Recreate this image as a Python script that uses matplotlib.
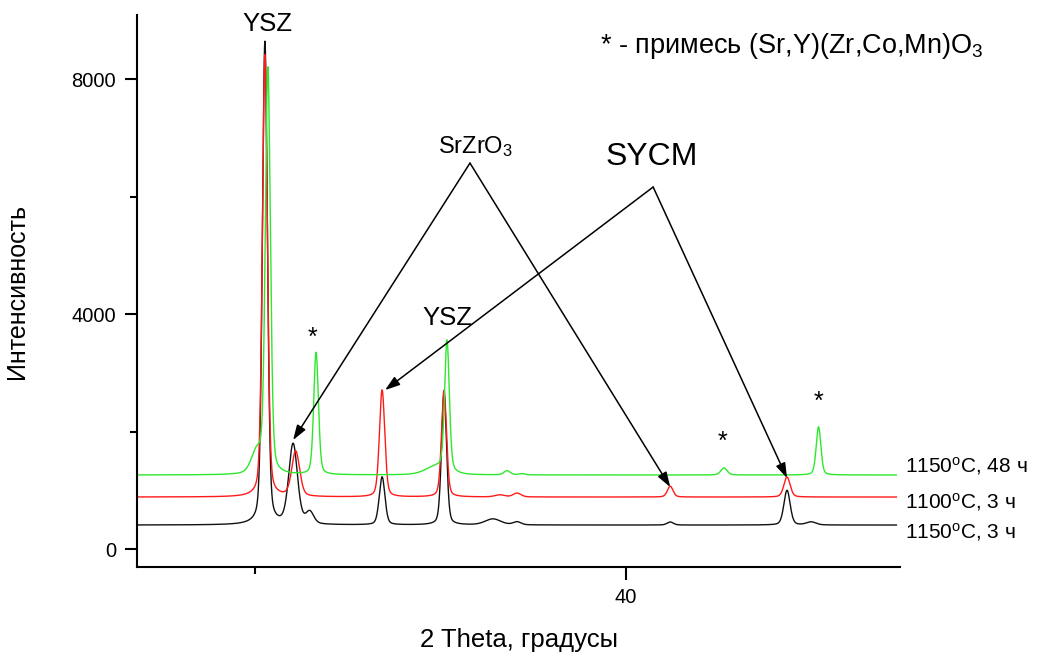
import numpy as np
import matplotlib
matplotlib.use("Agg")
import matplotlib.pyplot as plt
from matplotlib.ticker import MultipleLocator

plt.rcParams['font.family'] = ['Liberation Sans', 'DejaVu Sans']
plt.rcParams['mathtext.fontset'] = 'custom'
plt.rcParams['mathtext.rm'] = 'Liberation Sans'
plt.rcParams['mathtext.it'] = 'Liberation Sans:italic'

# peak lists: position (2theta), top intensity, FWHM
black_base = 408
black_pos  = [30.27, 31.03, 31.48, 33.43, 35.10, 36.42, 37.07, 41.20, 44.35, 45.00]
black_top  = [8630, 1770, 610, 1225, 2650, 510, 460, 460, 1000, 460]
black_fwhm = [0.16, 0.28, 0.25, 0.18, 0.16, 0.50, 0.25, 0.20, 0.20, 0.30]

red_base = 885
red_pos  = [30.27, 31.10, 33.43, 35.10, 36.60, 37.07, 41.20, 44.35]
red_top  = [8410, 1650, 2706, 2700, 920, 950, 1070, 1225]
red_fwhm = [0.16, 0.25, 0.17, 0.16, 0.30, 0.25, 0.18, 0.20]

green_base = 1260
green_pos  = [30.05, 30.35, 31.65, 34.90, 35.18, 36.80, 37.20, 42.65, 45.20]
green_top  = [1620, 8150, 3340, 1400, 3470, 1330, 1280, 1380, 2080]
green_fwhm = [0.35, 0.16, 0.15, 0.70, 0.15, 0.20, 0.20, 0.20, 0.15]

series_labels = ["1150$^\\mathregular{o}$C, 48 ч",
                 "1100$^\\mathregular{o}$C, 3 ч",
                 "1150$^\\mathregular{o}$C, 3 ч"]
label_y = [1311, 698, 187]

twotheta = np.linspace(26.85, 47.3, 5000)


def profile(base, pos, top, fwhm, eta=0.3):
    y = np.full_like(twotheta, float(base))
    for p, t, w in zip(pos, top, fwhm):
        h = t - base
        d = (twotheta - p) / (w / 2)
        gauss = np.exp(-np.log(2) * d ** 2)
        lorentz = 1.0 / (1.0 + d ** 2)
        y += h * (eta * lorentz + (1 - eta) * gauss)
    return y


fig = plt.figure(figsize=(10.37, 6.53), dpi=100)
ax = fig.add_axes([0.1321, 0.1317, 0.868 - 0.1321, 0.977 - 0.1317])

ax.plot(twotheta, profile(black_base, black_pos, black_top, black_fwhm), color='#111111', lw=1.0)
ax.plot(twotheta, profile(red_base, red_pos, red_top, red_fwhm), color='#ff1a1a', lw=1.0)
ax.plot(twotheta, profile(green_base, green_pos, green_top, green_fwhm), color='#2ee82e', lw=1.0)

ax.set_xlim(26.82, 47.40)
ax.set_ylim(-306, 9090)

for s in ['top', 'right']:
    ax.spines[s].set_visible(False)
for s in ['left', 'bottom']:
    ax.spines[s].set_linewidth(1.5)

ax.xaxis.set_major_locator(MultipleLocator(20))
ax.xaxis.set_minor_locator(MultipleLocator(10))
ax.yaxis.set_major_locator(MultipleLocator(4000))
ax.yaxis.set_minor_locator(MultipleLocator(2000))
ax.tick_params(which='major', direction='out', length=9, width=1.5, labelsize=14.5, pad=6)
ax.tick_params(which='minor', direction='out', length=5, width=1.5)

ax.set_xlabel("2 Theta, градусы", fontsize=18.5, labelpad=15)
ax.set_ylabel("Интенсивность", fontsize=18)
ax.yaxis.set_label_coords(-0.142, 0.5)

# phase labels
ax.text(30.35, 8936, "YSZ", fontsize=18.5, ha='center', va='center')
ax.text(35.18, 3932, "YSZ", fontsize=18.5, ha='center', va='center')
ax.text(35.95, 6740, "SrZrO$_\\mathregular{3}$", fontsize=17, ha='center', va='baseline')
ax.text(40.70, 6672, "SYCM", fontsize=23, ha='center', va='center')

# impurity stars
for sx, sy in [(31.56, 3600), (42.62, 1830), (45.21, 2510)]:
    ax.text(sx, sy, "*", fontsize=18, ha='center', va='center')

ax.text(39.31, 8443, "* - примесь (Sr,Y)(Zr,Co,Mn)O$_\\mathregular{3}$",
        fontsize=19.5, ha='left', va='baseline')

arrow = dict(arrowstyle='-|>,head_length=0.9,head_width=0.3', lw=1.1,
             color='black', shrinkA=0, shrinkB=0)
for tx, ty in [(31.03, 1855), (41.20, 1055)]:
    ax.annotate("", xy=(tx, ty), xytext=(35.80, 6570), arrowprops=arrow)
for tx, ty in [(33.51, 2706), (44.35, 1208)]:
    ax.annotate("", xy=(tx, ty), xytext=(40.74, 6162), arrowprops=arrow)

for lab, ly in zip(series_labels, label_y):
    ax.text(47.53, ly, lab, fontsize=15, ha='left', va='baseline', clip_on=False)

fig.savefig("out.png", dpi=100)
